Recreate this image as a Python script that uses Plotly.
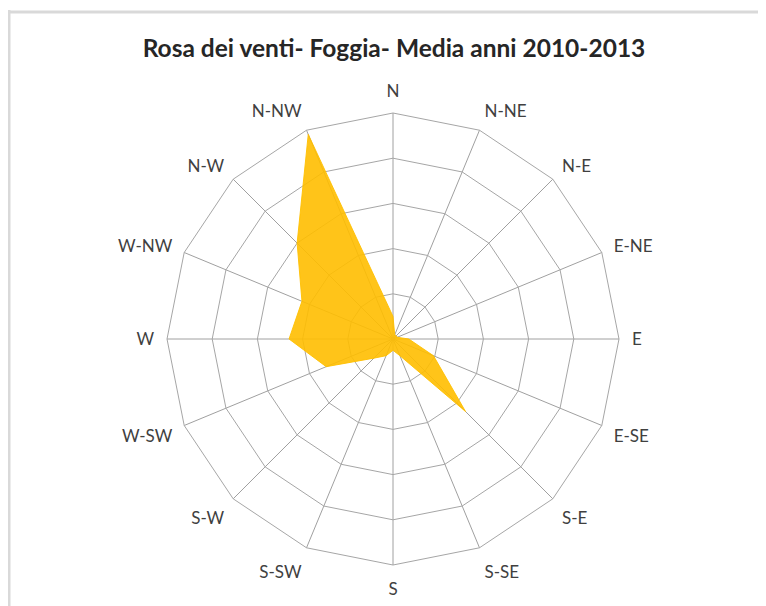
import plotly.graph_objects as go

directions = ["N", "N-NE", "N-E", "E-NE", "E", "E-SE", "S-E", "S-SE",
              "S", "S-SW", "S-W", "W-SW", "W", "W-NW", "N-W", "N-NW"]
frequency = [2.5, 0.5, 0.5, 0.5, 1.75, 4.85, 11.35, 2.0,
             1.25, 2.0, 3.0, 8.0, 11.5, 10.9, 15.0, 24.5]
title_text = "Rosa dei venti- Foggia- Media anni 2010-2013"

W, H = 766, 606
# page body adds an 8px offset; positions below are in figure coordinates
cx, cy, R = 385, 331, 226

fig = go.Figure()
fig.add_trace(go.Scatterpolar(
    r=frequency + frequency[:1],
    theta=directions + directions[:1],
    mode="lines",
    fill="toself",
    fillcolor="rgba(255,190,0,0.9)",
    line=dict(color="rgba(255,192,0,0.9)", width=1),
    hoverinfo="skip",
    showlegend=False,
))

fig.update_layout(
    width=W, height=H,
    margin=dict(l=0, r=0, t=0, b=0),
    paper_bgcolor="white",
    plot_bgcolor="white",
    title=dict(text=title_text, x=386 / W, xanchor="center",
               y=1 - 40 / H, yanchor="middle", yref="container",
               font=dict(family="Lato", size=24.5, color="#262626", weight="bold")),
    polar=dict(
        domain=dict(x=[(cx - R) / W, (cx + R) / W],
                    y=[(H - cy - R) / H, (H - cy + R) / H]),
        gridshape="linear",
        bgcolor="white",
        angularaxis=dict(
            direction="clockwise", rotation=90,
            categoryorder="array", categoryarray=directions,
            showline=True, linecolor="#a6a6a6", linewidth=1,
            gridcolor="#a0a0a0", gridwidth=1,
            ticks="outside", ticklen=9, tickcolor="rgba(0,0,0,0)",
            tickfont=dict(family="Lato", size=17, color="#404040"),
        ),
        radialaxis=dict(
            range=[0, 25], dtick=5, tick0=0,
            showticklabels=False, ticks="",
            showline=False,
            gridcolor="#a6a6a6", gridwidth=1,
        ),
    ),
    shapes=[
        dict(type="line", xref="paper", yref="paper",
             x0=1 / W, x1=1 / W, y0=1 - 2 / H, y1=0,
             line=dict(color="#d9d9d9", width=3)),
        dict(type="line", xref="paper", yref="paper",
             x0=0, x1=1, y0=1 - 4 / H, y1=1 - 4 / H,
             line=dict(color="#d9d9d9", width=3)),
    ],
)

fig.write_html("out.html")
